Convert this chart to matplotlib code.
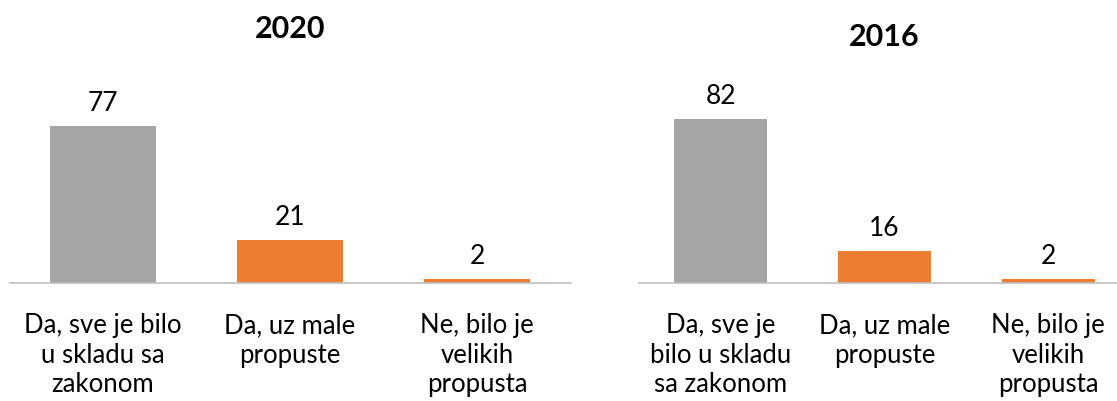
import matplotlib
matplotlib.use("Agg")
import matplotlib.pyplot as plt

categories_2020 = ["Da, sve je bilo\nu skladu sa\nzakonom", "Da, uz male\npropuste", "Ne, bilo je\nvelikih\npropusta"]
values_2020 = [77, 21, 2]
categories_2016 = ["Da, sve je\nbilo u skladu\nsa zakonom", "Da, uz male\npropuste", "Ne, bilo je\nvelikih\npropusta"]
values_2016 = [82, 16, 2]
colors = ["#A5A5A5", "#ED7D31", "#ED7D31"]

plt.rcParams['font.family'] = ['Lato', 'DejaVu Sans']

W, H = 1117, 402
fig = plt.figure(figsize=(W/100, H/100), dpi=100)

def px_axes(x0, x1, ytop, ybot):
    return fig.add_axes([x0/W, 1 - ybot/H, (x1-x0)/W, (ybot-ytop)/H])

ax1 = px_axes(9.5, 570.5, 80, 284)
ax2 = px_axes(639, 1130, 80, 284)

for ax, cats, vals, title, ymax, tx, ty in [
        (ax1, categories_2020, values_2020, "2020", 100, 290, 29),
        (ax2, categories_2016, values_2016, "2016", 102, 884, 37)]:
    x = range(len(vals))
    ax.bar(x, vals, width=0.57, color=colors)
    ax.set_xlim(-0.5, 2.5)
    ax.set_ylim(0, ymax)
    for xi, v in zip(x, vals):
        ax.annotate(str(v), (xi, v), xytext=(0, 8), textcoords="offset points",
                    ha="center", va="bottom", fontsize=19, color="#000000")
    ax.set_xticks(list(x))
    ax.set_xticklabels(cats, fontsize=18.5, linespacing=1.22, color="#000000")
    ax.tick_params(axis="x", length=0, pad=21)
    ax.set_yticks([])
    for s in ["top", "right", "left"]:
        ax.spines[s].set_visible(False)
    ax.spines["bottom"].set_color("#BFBFBF")
    ax.spines["bottom"].set_linewidth(1.2)
    fig.text(tx/W, 1 - ty/H, title,
             ha="center", va="center", fontsize=22, fontweight="bold")

fig.savefig("out.png", dpi=100)
